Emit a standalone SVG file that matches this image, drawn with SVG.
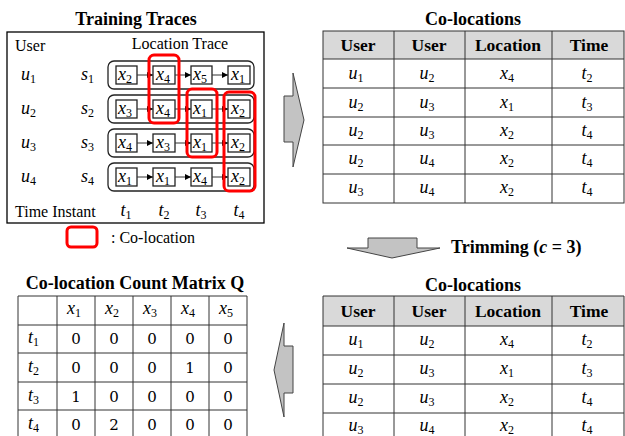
<svg xmlns="http://www.w3.org/2000/svg" width="625" height="436" viewBox="0 0 625 436" font-family="'Liberation Serif', 'Times New Roman', 'DejaVu Serif', serif">
  <style>
    text { font-family: "Liberation Serif", "Times New Roman", "DejaVu Serif", serif; fill: #000; }
    .title { font-size: 18px; font-weight: bold; text-anchor: middle; }
    .lbl { font-size: 16px; }
    .hdr { font-size: 17.5px; font-weight: bold; text-anchor: middle; }
    .m { font-size: 18px; font-style: italic; }
    .mc { font-size: 18px; font-style: italic; text-anchor: middle; }
    .sub { font-size: 12px; font-style: normal; }
    .num { font-size: 15px; text-anchor: middle; font-family: "DejaVu Serif", serif; }
    .trace { fill: none; stroke: #222; stroke-width: 1.3; }
    .grid { stroke: #333; stroke-width: 1; fill: none; }
    .head { fill: #d9d9d9; }
    .co { fill: none; stroke: #ff0000; stroke-width: 3; }
    .link { stroke: #333; stroke-width: 1; }
    .bigarrow { fill: #c3c3c3; stroke: #444; stroke-width: 1; }
  </style>
  <defs>
    <marker id="ah" viewBox="0 0 6 6" refX="6" refY="3" markerWidth="6" markerHeight="6" orient="auto" markerUnits="userSpaceOnUse">
      <path d="M0,0 L6,3 L0,6 Z" fill="#000"/>
    </marker>
  </defs>

  <!-- Training traces panel -->
  <g id="training-traces">
    <text class="title" x="136" y="25">Training Traces</text>
    <rect x="7" y="32" width="257" height="191" fill="#fff" stroke="#000" stroke-width="1.3"/>
    <text class="lbl" x="15" y="51">User</text>
    <text class="lbl" x="180" y="49" text-anchor="middle">Location Trace</text>

    <text class="m" x="21" y="80">u<tspan class="sub" dy="3">1</tspan></text>
    <text class="m" x="21" y="114">u<tspan class="sub" dy="3">2</tspan></text>
    <text class="m" x="21" y="148">u<tspan class="sub" dy="3">3</tspan></text>
    <text class="m" x="21" y="182">u<tspan class="sub" dy="3">4</tspan></text>
    <text class="m" x="81" y="80">s<tspan class="sub" dy="3">1</tspan></text>
    <text class="m" x="81" y="114">s<tspan class="sub" dy="3">2</tspan></text>
    <text class="m" x="81" y="148">s<tspan class="sub" dy="3">3</tspan></text>
    <text class="m" x="81" y="182">s<tspan class="sub" dy="3">4</tspan></text>

    <text class="lbl" x="15" y="217">Time Instant</text>
    <text class="mc" x="126" y="216">t<tspan class="sub" dy="3">1</tspan></text>
    <text class="mc" x="164" y="216">t<tspan class="sub" dy="3">2</tspan></text>
    <text class="mc" x="201" y="216">t<tspan class="sub" dy="3">3</tspan></text>
    <text class="mc" x="239" y="216">t<tspan class="sub" dy="3">4</tspan></text>
  </g>

  <!-- Trace rows -->
  <g id="trace-s1">
    <rect class="trace" x="108" y="61" width="146" height="28" rx="6"/>
    <rect class="trace" x="116" y="66" width="21" height="18"/>
    <rect class="trace" x="153" y="66" width="22" height="18"/>
    <rect class="trace" x="191" y="66" width="21" height="18"/>
    <rect class="trace" x="228" y="66" width="22" height="18"/>
    <text class="mc" x="125" y="80">x<tspan class="sub" dy="3">2</tspan></text>
    <text class="mc" x="163" y="80">x<tspan class="sub" dy="3">4</tspan></text>
    <text class="mc" x="200" y="80">x<tspan class="sub" dy="3">5</tspan></text>
    <text class="mc" x="238" y="80">x<tspan class="sub" dy="3">1</tspan></text>
  </g>
  <g id="trace-s2">
    <rect class="trace" x="108" y="95" width="146" height="28" rx="6"/>
    <rect class="trace" x="116" y="100" width="21" height="18"/>
    <rect class="trace" x="153" y="100" width="22" height="18"/>
    <rect class="trace" x="191" y="100" width="21" height="18"/>
    <rect class="trace" x="228" y="100" width="22" height="18"/>
    <text class="mc" x="125" y="114">x<tspan class="sub" dy="3">3</tspan></text>
    <text class="mc" x="163" y="114">x<tspan class="sub" dy="3">4</tspan></text>
    <text class="mc" x="200" y="114">x<tspan class="sub" dy="3">1</tspan></text>
    <text class="mc" x="238" y="114">x<tspan class="sub" dy="3">2</tspan></text>
  </g>
  <g id="trace-s3">
    <rect class="trace" x="108" y="129" width="146" height="28" rx="6"/>
    <rect class="trace" x="116" y="134" width="21" height="18"/>
    <rect class="trace" x="153" y="134" width="22" height="18"/>
    <rect class="trace" x="191" y="134" width="21" height="18"/>
    <rect class="trace" x="228" y="134" width="22" height="18"/>
    <text class="mc" x="125" y="148">x<tspan class="sub" dy="3">4</tspan></text>
    <text class="mc" x="163" y="148">x<tspan class="sub" dy="3">3</tspan></text>
    <text class="mc" x="200" y="148">x<tspan class="sub" dy="3">1</tspan></text>
    <text class="mc" x="238" y="148">x<tspan class="sub" dy="3">2</tspan></text>
  </g>
  <g id="trace-s4">
    <rect class="trace" x="108" y="163" width="146" height="28" rx="6"/>
    <rect class="trace" x="116" y="168" width="21" height="18"/>
    <rect class="trace" x="153" y="168" width="22" height="18"/>
    <rect class="trace" x="191" y="168" width="21" height="18"/>
    <rect class="trace" x="228" y="168" width="22" height="18"/>
    <text class="mc" x="125" y="182">x<tspan class="sub" dy="3">1</tspan></text>
    <text class="mc" x="163" y="182">x<tspan class="sub" dy="3">1</tspan></text>
    <text class="mc" x="200" y="182">x<tspan class="sub" dy="3">4</tspan></text>
    <text class="mc" x="238" y="182">x<tspan class="sub" dy="3">2</tspan></text>
  </g>

  <!-- Step links inside traces -->
  <g id="connectors">
    <line class="link" x1="137" y1="75" x2="153" y2="75" marker-end="url(#ah)"/>
    <line class="link" x1="175" y1="75" x2="191" y2="75" marker-end="url(#ah)"/>
    <line class="link" x1="212" y1="75" x2="228" y2="75" marker-end="url(#ah)"/>
    <line class="link" x1="137" y1="109" x2="153" y2="109" marker-end="url(#ah)"/>
    <line class="link" x1="175" y1="109" x2="191" y2="109" marker-end="url(#ah)"/>
    <line class="link" x1="212" y1="109" x2="228" y2="109" marker-end="url(#ah)"/>
    <line class="link" x1="137" y1="143" x2="153" y2="143" marker-end="url(#ah)"/>
    <line class="link" x1="175" y1="143" x2="191" y2="143" marker-end="url(#ah)"/>
    <line class="link" x1="212" y1="143" x2="228" y2="143" marker-end="url(#ah)"/>
    <line class="link" x1="137" y1="177" x2="153" y2="177" marker-end="url(#ah)"/>
    <line class="link" x1="175" y1="177" x2="191" y2="177" marker-end="url(#ah)"/>
    <line class="link" x1="212" y1="177" x2="228" y2="177" marker-end="url(#ah)"/>
  </g>

  <!-- Co-location highlights -->
  <g id="colocations-highlight">
    <rect class="co" x="149" y="55" width="30" height="68" rx="5"/>
    <rect class="co" x="187" y="89" width="30" height="68" rx="5"/>
    <rect class="co" x="224" y="92" width="31" height="99" rx="5"/>
  </g>

  <g id="legend">
    <rect class="co" x="67" y="227" width="30" height="20" rx="4"/>
    <text class="lbl" x="111" y="243">: Co-location</text>
  </g>

  <!-- Block arrows -->
  <g id="arrow-right">
    <polygon class="bigarrow" points="284,96 293,96 293,73 304,120 293,167 293,142 284,142"/>
  </g>
  <g id="arrow-down">
    <polygon class="bigarrow" points="368,238 417,238 417,248 440,248 392,258 347,248 368,248"/>
    <text x="451" y="253" font-size="18" font-weight="bold">Trimming (<tspan font-style="italic">c</tspan> = 3)</text>
  </g>
  <g id="arrow-left">
    <polygon class="bigarrow" points="293,346 284,346 284,323 274,370 284,417 284,393 293,393"/>
  </g>

  <!-- Co-locations table (all) -->
  <g id="colocations-all">
    <text class="title" x="473" y="25">Co-locations</text>
    <rect class="head" x="323" y="31" width="301" height="28"/>
    <g class="grid">
      <rect x="323" y="31" width="301" height="172"/>
      <line x1="323" y1="59" x2="624" y2="59"/>
      <line x1="323" y1="88" x2="624" y2="88"/>
      <line x1="323" y1="117" x2="624" y2="117"/>
      <line x1="323" y1="145" x2="624" y2="145"/>
      <line x1="323" y1="174" x2="624" y2="174"/>
      <line x1="394" y1="31" x2="394" y2="203"/>
      <line x1="465" y1="31" x2="465" y2="203"/>
      <line x1="552" y1="31" x2="552" y2="203"/>
    </g>
    <text class="hdr" x="358" y="51">User</text>
    <text class="hdr" x="429" y="51">User</text>
    <text class="hdr" x="508" y="51">Location</text>
    <text class="hdr" x="589" y="51">Time</text>

    <text class="mc" x="356" y="79">u<tspan class="sub" dy="3">1</tspan></text>
    <text class="mc" x="427" y="79">u<tspan class="sub" dy="3">2</tspan></text>
    <text class="mc" x="507" y="79">x<tspan class="sub" dy="3">4</tspan></text>
    <text class="mc" x="587" y="79">t<tspan class="sub" dy="3">2</tspan></text>

    <text class="mc" x="356" y="108">u<tspan class="sub" dy="3">2</tspan></text>
    <text class="mc" x="427" y="108">u<tspan class="sub" dy="3">3</tspan></text>
    <text class="mc" x="507" y="108">x<tspan class="sub" dy="3">1</tspan></text>
    <text class="mc" x="587" y="108">t<tspan class="sub" dy="3">3</tspan></text>

    <text class="mc" x="356" y="136">u<tspan class="sub" dy="3">2</tspan></text>
    <text class="mc" x="427" y="136">u<tspan class="sub" dy="3">3</tspan></text>
    <text class="mc" x="507" y="136">x<tspan class="sub" dy="3">2</tspan></text>
    <text class="mc" x="587" y="136">t<tspan class="sub" dy="3">4</tspan></text>

    <text class="mc" x="356" y="164">u<tspan class="sub" dy="3">2</tspan></text>
    <text class="mc" x="427" y="164">u<tspan class="sub" dy="3">4</tspan></text>
    <text class="mc" x="507" y="164">x<tspan class="sub" dy="3">2</tspan></text>
    <text class="mc" x="587" y="164">t<tspan class="sub" dy="3">4</tspan></text>

    <text class="mc" x="356" y="193">u<tspan class="sub" dy="3">3</tspan></text>
    <text class="mc" x="427" y="193">u<tspan class="sub" dy="3">4</tspan></text>
    <text class="mc" x="507" y="193">x<tspan class="sub" dy="3">2</tspan></text>
    <text class="mc" x="587" y="193">t<tspan class="sub" dy="3">4</tspan></text>
  </g>

  <!-- Co-locations table (trimmed) -->
  <g id="colocations-trimmed">
    <text class="title" x="473" y="291">Co-locations</text>
    <rect class="head" x="323" y="296" width="301" height="30"/>
    <g class="grid">
      <polyline points="323,440 323,296 624,296 624,440"/>
      <line x1="323" y1="326" x2="624" y2="326"/>
      <line x1="323" y1="355" x2="624" y2="355"/>
      <line x1="323" y1="384" x2="624" y2="384"/>
      <line x1="323" y1="413" x2="624" y2="413"/>
      <line x1="394" y1="296" x2="394" y2="440"/>
      <line x1="465" y1="296" x2="465" y2="440"/>
      <line x1="552" y1="296" x2="552" y2="440"/>
    </g>
    <text class="hdr" x="358" y="317">User</text>
    <text class="hdr" x="429" y="317">User</text>
    <text class="hdr" x="508" y="317">Location</text>
    <text class="hdr" x="589" y="317">Time</text>

    <text class="mc" x="356" y="345">u<tspan class="sub" dy="3">1</tspan></text>
    <text class="mc" x="427" y="345">u<tspan class="sub" dy="3">2</tspan></text>
    <text class="mc" x="507" y="345">x<tspan class="sub" dy="3">4</tspan></text>
    <text class="mc" x="587" y="345">t<tspan class="sub" dy="3">2</tspan></text>

    <text class="mc" x="356" y="374">u<tspan class="sub" dy="3">2</tspan></text>
    <text class="mc" x="427" y="374">u<tspan class="sub" dy="3">3</tspan></text>
    <text class="mc" x="507" y="374">x<tspan class="sub" dy="3">1</tspan></text>
    <text class="mc" x="587" y="374">t<tspan class="sub" dy="3">3</tspan></text>

    <text class="mc" x="356" y="403">u<tspan class="sub" dy="3">2</tspan></text>
    <text class="mc" x="427" y="403">u<tspan class="sub" dy="3">3</tspan></text>
    <text class="mc" x="507" y="403">x<tspan class="sub" dy="3">2</tspan></text>
    <text class="mc" x="587" y="403">t<tspan class="sub" dy="3">4</tspan></text>

    <text class="mc" x="356" y="431">u<tspan class="sub" dy="3">3</tspan></text>
    <text class="mc" x="427" y="431">u<tspan class="sub" dy="3">4</tspan></text>
    <text class="mc" x="507" y="431">x<tspan class="sub" dy="3">2</tspan></text>
    <text class="mc" x="587" y="431">t<tspan class="sub" dy="3">4</tspan></text>
  </g>

  <!-- Co-location count matrix -->
  <g id="count-matrix">
    <text class="title" x="135" y="289">Co-location Count Matrix Q</text>
    <g class="grid">
      <polyline points="18,440 18,296 247,296 247,440"/>
      <line x1="18" y1="325" x2="247" y2="325"/>
      <line x1="18" y1="353" x2="247" y2="353"/>
      <line x1="18" y1="382" x2="247" y2="382"/>
      <line x1="18" y1="410" x2="247" y2="410"/>
      <line x1="57" y1="296" x2="57" y2="440"/>
      <line x1="95" y1="296" x2="95" y2="440"/>
      <line x1="133" y1="296" x2="133" y2="440"/>
      <line x1="171" y1="296" x2="171" y2="440"/>
      <line x1="209" y1="296" x2="209" y2="440"/>
    </g>
    <text class="mc" x="74" y="314">x<tspan class="sub" dy="3">1</tspan></text>
    <text class="mc" x="112" y="314">x<tspan class="sub" dy="3">2</tspan></text>
    <text class="mc" x="150" y="314">x<tspan class="sub" dy="3">3</tspan></text>
    <text class="mc" x="188" y="314">x<tspan class="sub" dy="3">4</tspan></text>
    <text class="mc" x="226" y="314">x<tspan class="sub" dy="3">5</tspan></text>

    <text class="m" x="28" y="343">t<tspan class="sub" dy="3">1</tspan></text>
    <text class="m" x="28" y="372">t<tspan class="sub" dy="3">2</tspan></text>
    <text class="m" x="28" y="401">t<tspan class="sub" dy="3">3</tspan></text>
    <text class="m" x="28" y="429">t<tspan class="sub" dy="3">4</tspan></text>

    <text class="num" x="76" y="344">0</text><text class="num" x="114" y="344">0</text><text class="num" x="152" y="344">0</text><text class="num" x="190" y="344">0</text><text class="num" x="228" y="344">0</text>
    <text class="num" x="76" y="373">0</text><text class="num" x="114" y="373">0</text><text class="num" x="152" y="373">0</text><text class="num" x="190" y="373">1</text><text class="num" x="228" y="373">0</text>
    <text class="num" x="76" y="402">1</text><text class="num" x="114" y="402">0</text><text class="num" x="152" y="402">0</text><text class="num" x="190" y="402">0</text><text class="num" x="228" y="402">0</text>
    <text class="num" x="76" y="430">0</text><text class="num" x="114" y="430">2</text><text class="num" x="152" y="430">0</text><text class="num" x="190" y="430">0</text><text class="num" x="228" y="430">0</text>
  </g>
</svg>
